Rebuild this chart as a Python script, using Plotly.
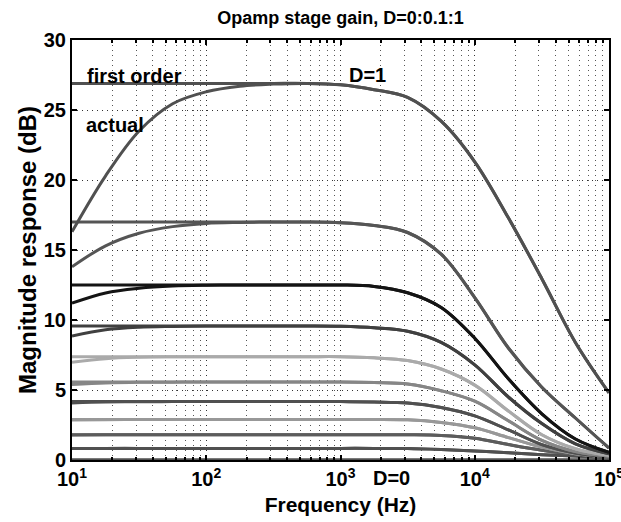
import plotly.graph_objects as go

# ---- data ----
D_VALUES = [0.0, 0.1, 0.2, 0.3, 0.4, 0.5, 0.6, 0.7, 0.8, 0.9, 1.0]
# mid-band gain (dB) of the first-order model
G0 = [0.0, 0.83, 1.81, 2.90, 4.17, 5.57, 7.38, 9.57, 12.5, 17.0, 26.9]

# low-frequency sample points (Hz) and the "actual" response there (dB)
F_LOW = [10, 17.8, 31.6, 56.2, 100, 178, 316, 562]
ACT_LOW_00 = [0.0, 0.0, 0.0, 0.0, 0.0, 0.0, 0.0, 0.0]
ACT_LOW_01 = [0.82, 0.83, 0.83, 0.83, 0.83, 0.83, 0.83, 0.83]
ACT_LOW_02 = [1.79, 1.80, 1.81, 1.81, 1.81, 1.81, 1.81, 1.81]
ACT_LOW_03 = [2.86, 2.88, 2.90, 2.90, 2.90, 2.90, 2.90, 2.90]
ACT_LOW_04 = [4.08, 4.14, 4.16, 4.17, 4.17, 4.17, 4.17, 4.17]
ACT_LOW_05 = [5.40, 5.50, 5.55, 5.56, 5.57, 5.57, 5.57, 5.57]
ACT_LOW_06 = [6.98, 7.24, 7.34, 7.37, 7.38, 7.38, 7.38, 7.38]
ACT_LOW_07 = [8.86, 9.30, 9.48, 9.54, 9.57, 9.57, 9.57, 9.57]
ACT_LOW_08 = [11.2, 11.93, 12.26, 12.42, 12.48, 12.5, 12.5, 12.5]
ACT_LOW_09 = [13.8, 15.3, 16.2, 16.67, 16.9, 16.97, 17.0, 17.0]
ACT_LOW_10 = [16.3, 20.3, 23.5, 25.45, 26.3, 26.7, 26.85, 26.9]

# high-frequency sample points (Hz) and the roll-off (dB), shared by both models
F_HIGH = [1000, 1780, 3160, 5620, 10000, 17800, 31600, 56200, 100000]
HIGH_00 = [0.0, 0.0, 0.0, 0.0, 0.0, 0.0, 0.0, 0.0, 0.0]
HIGH_01 = [0.83, 0.83, 0.82, 0.75, 0.65, 0.52, 0.38, 0.28, 0.16]
HIGH_02 = [1.81, 1.81, 1.80, 1.75, 1.55, 1.10, 0.70, 0.42, 0.21]
HIGH_03 = [2.90, 2.90, 2.87, 2.68, 2.30, 1.60, 0.92, 0.45, 0.22]
HIGH_04 = [4.17, 4.14, 4.07, 3.75, 3.15, 2.15, 1.10, 0.50, 0.22]
HIGH_05 = [5.57, 5.53, 5.43, 4.95, 4.20, 2.80, 1.40, 0.60, 0.27]
HIGH_06 = [7.38, 7.30, 7.10, 6.50, 5.35, 3.50, 1.80, 0.80, 0.33]
HIGH_07 = [9.55, 9.45, 9.20, 8.40, 6.80, 4.50, 2.60, 1.15, 0.45]
HIGH_08 = [12.5, 12.4, 11.95, 10.9, 8.70, 5.80, 3.30, 1.50, 0.55]
HIGH_09 = [16.95, 16.75, 16.25, 14.7, 11.6, 8.00, 5.20, 3.00, 0.85]
HIGH_10 = [26.8, 26.45, 25.9, 24.2, 21.3, 17.3, 12.95, 8.40, 4.80]

ACT_LOW = [ACT_LOW_00, ACT_LOW_01, ACT_LOW_02, ACT_LOW_03, ACT_LOW_04, ACT_LOW_05,
           ACT_LOW_06, ACT_LOW_07, ACT_LOW_08, ACT_LOW_09, ACT_LOW_10]
HIGH = [HIGH_00, HIGH_01, HIGH_02, HIGH_03, HIGH_04, HIGH_05,
        HIGH_06, HIGH_07, HIGH_08, HIGH_09, HIGH_10]

COLORS = ["#505050", "#505050", "#5c5c5c", "#989898", "#505050", "#868686",
          "#aaaaaa", "#404040", "#141414", "#555555", "#505050"]

X_TICKS = [10, 100, 1000, 10000, 100000]
X_TICK_TEXT = ["10<sup>1</sup>", "10<sup>2</sup>", "10<sup>3</sup>", "10<sup>4</sup>", "10<sup>5</sup>"]
Y_TICKS = [0, 5, 10, 15, 20, 25, 30]

FONT = "Liberation Sans, Arial, sans-serif"
FS = 20

fig = go.Figure()
freqs = F_LOW + F_HIGH
for i, d in enumerate(D_VALUES):
    first_order = [G0[i]] * len(F_LOW) + HIGH[i]
    actual = ACT_LOW[i] + HIGH[i]
    for ys in (first_order, actual):
        fig.add_trace(go.Scatter(
            x=freqs, y=ys, mode="lines",
            line=dict(color=COLORS[i], width=3, shape="spline", smoothing=1.0),
            showlegend=False, hoverinfo="skip"))

ann_font = dict(family=FONT, size=FS, color="black", weight="bold")
fig.add_annotation(x=1.1, y=27.45, xref="x", yref="y", text="first order",
                   showarrow=False, xanchor="left", yanchor="middle", font=ann_font)
fig.add_annotation(x=1.09, y=23.9, xref="x", yref="y", text="actual",
                   showarrow=False, xanchor="left", yanchor="middle", font=ann_font)
fig.add_annotation(x=3.2, y=27.5, xref="x", yref="y", text="D=1",
                   showarrow=False, xanchor="center", yanchor="middle", font=ann_font)
fig.add_annotation(x=3.38, y=-0.043, xref="x", yref="paper", text="D=0",
                   showarrow=False, xanchor="center", yanchor="middle", font=ann_font)

fig.update_layout(
    width=621, height=522,
    margin=dict(l=72, r=12, t=40, b=62, autoexpand=False),
    paper_bgcolor="white", plot_bgcolor="white",
    font=dict(family=FONT, color="black"),
    title=dict(text="Opamp stage gain, D=0:0.1:1", x=0.5, xref="paper",
               y=1 - 18 / 522, yref="container", xanchor="center", yanchor="middle",
               font=dict(family=FONT, size=18, color="black", weight="bold")),
    xaxis=dict(
        type="log", range=[1, 5], automargin=False,
        tickvals=X_TICKS, ticktext=X_TICK_TEXT, ticklabeloverflow="allow",
        tickfont=dict(family=FONT, size=FS, weight="bold"),
        ticks="inside", ticklen=5, tickwidth=2, tickcolor="black",
        showline=True, linecolor="black", linewidth=2, mirror="ticks",
        showgrid=True, gridcolor="#333333", gridwidth=1, griddash="1px,4px",
        minor=dict(dtick="D1", ticks="inside", ticklen=3, tickcolor="black",
                   showgrid=True, gridcolor="#555555", gridwidth=1, griddash="1px,4px"),
        zeroline=False,
        title=dict(text="Frequency (Hz)", standoff=8,
                   font=dict(family=FONT, size=21, weight="bold")),
    ),
    yaxis=dict(
        range=[0, 30], tickvals=Y_TICKS, automargin=False,
        tickfont=dict(family=FONT, size=FS, weight="bold"),
        ticks="inside", ticklen=5, tickwidth=2, tickcolor="black",
        showline=True, linecolor="black", linewidth=2, mirror="ticks",
        showgrid=True, gridcolor="#333333", gridwidth=1, griddash="1px,4px",
        zeroline=False,
        title=dict(text="Magnitude response (dB)", standoff=0,
                   font=dict(family=FONT, size=24, weight="bold")),
    ),
)

fig.write_html("out.html")
